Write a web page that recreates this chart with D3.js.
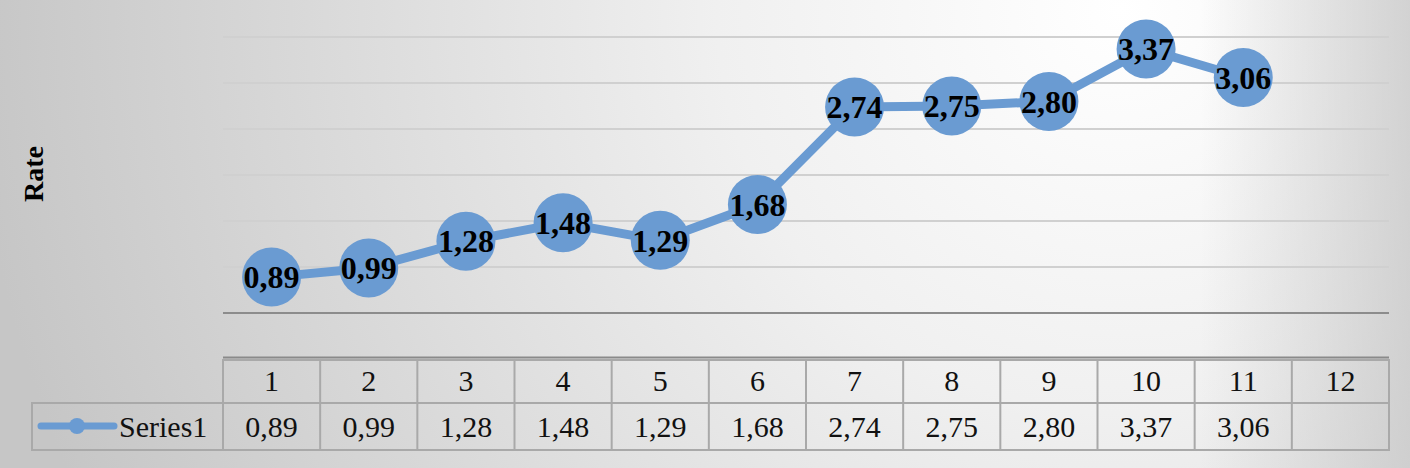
<!DOCTYPE html>
<html><head><meta charset="utf-8">
<script src="https://cdn.jsdelivr.net/npm/d3@7"></script>
<style>html,body{margin:0;padding:0;background:#fff;}svg{display:block;} text{font-family:"Liberation Serif","Times New Roman",Times,"DejaVu Serif",serif;}</style>
</head><body>
<script>
const categories = ["1","2","3","4","5","6","7","8","9","10","11","12"];
const values = [0.89,0.99,1.28,1.48,1.29,1.68,2.74,2.75,2.80,3.37,3.06,null];
const seriesName = "Series1";
const yTicks = [0.5,1.0,1.5,2.0,2.5,3.0,3.5];
const fmt = v => v == null ? "" : v.toFixed(2).replace(".", ",");

const W = 1410, H = 468;
const svg = d3.select("body").append("svg").attr("width", W).attr("height", H);
const defs = svg.append("defs");
const rg = defs.append("radialGradient").attr("id","bg").attr("gradientUnits","userSpaceOnUse")
  .attr("cx",1120).attr("cy",10).attr("r",1150);
rg.append("stop").attr("offset","0%").attr("stop-color","#ffffff");
rg.append("stop").attr("offset","35%").attr("stop-color","#f0f0f0");
rg.append("stop").attr("offset","100%").attr("stop-color","#c6c6c6");
svg.append("rect").attr("width",W).attr("height",H).attr("fill","url(#bg)");
const lg = defs.append("linearGradient").attr("id","edge").attr("x1","0").attr("x2","1");
lg.append("stop").attr("offset","0").attr("stop-color","#c4c4c4").attr("stop-opacity",0);
lg.append("stop").attr("offset","1").attr("stop-color","#c4c4c4").attr("stop-opacity",0.7);
svg.append("rect").attr("x",1200).attr("width",210).attr("height",H).attr("fill","url(#edge)");

const x0 = 223, x1 = 1389;
const x = d3.scaleBand().domain(categories).range([x0, x1]).padding(0);
const y = d3.scaleLinear().domain([0.5, 3.5]).range([313, 37]);

svg.append("g").selectAll("line").data(yTicks).join("line")
  .attr("x1", x0).attr("x2", x1)
  .attr("y1", d => y(d)).attr("y2", d => y(d))
  .attr("stroke", d => d === 0.5 ? "#8c8c8c" : "#d0d0d0")
  .attr("stroke-width", 2);

svg.append("text").attr("transform","translate(43,174) rotate(-90)")
  .attr("text-anchor","middle")
  .attr("font-weight","bold").attr("font-size",28).attr("fill","#000").text("Rate");

const pts = categories.map((c,i) => ({c, v: values[i]})).filter(d => d.v != null);
const cx = d => x(d.c) + x.bandwidth()/2;
const color = "#6a9bd2";
svg.append("path").datum(pts)
  .attr("d", d3.line().x(cx).y(d => y(d.v)))
  .attr("fill","none").attr("stroke",color).attr("stroke-width",9).attr("stroke-linejoin","round");
svg.append("g").selectAll("circle").data(pts).join("circle")
  .attr("cx", cx).attr("cy", d => y(d.v)).attr("r", 29.5).attr("fill", color);
svg.append("g").selectAll("text").data(pts).join("text")
  .attr("x", cx).attr("y", d => y(d.v)).attr("dy","0.35em")
  .attr("text-anchor","middle")
  .attr("font-weight","bold").attr("font-size",32).attr("fill","#000").text(d => fmt(d.v));

const tTop = 360, rowMid = 403, tBot = 450, lx = 32;
const tbl = svg.append("g");
const grid = "#a9a9a9";
tbl.append("line").attr("x1",x0).attr("x2",x1).attr("y1",357.5).attr("y2",357.5).attr("stroke","#8a8a8a").attr("stroke-width",2);
tbl.append("rect").attr("x",x0).attr("y",tTop).attr("width",x1-x0).attr("height",tBot-tTop).attr("fill","none").attr("stroke",grid).attr("stroke-width",2);
tbl.append("rect").attr("x",lx).attr("y",rowMid).attr("width",x0-lx).attr("height",tBot-rowMid).attr("fill","none").attr("stroke",grid).attr("stroke-width",2);
tbl.append("line").attr("x1",x0).attr("x2",x1).attr("y1",rowMid).attr("y2",rowMid).attr("stroke",grid).attr("stroke-width",2);
tbl.selectAll(".vl").data(categories.slice(1)).join("line")
  .attr("x1", d => x(d)).attr("x2", d => x(d)).attr("y1", tTop).attr("y2", tBot)
  .attr("stroke", grid).attr("stroke-width", 2);
tbl.selectAll(".hd").data(categories).join("text")
  .attr("x", d => x(d) + x.bandwidth()/2).attr("y", 380.5).attr("dy","0.35em")
  .attr("text-anchor","middle").attr("font-size",30).attr("fill","#111").text(d => d);
tbl.selectAll(".vv").data(categories.map((c,i)=>({c, v: values[i]}))).join("text")
  .attr("x", d => x(d.c) + x.bandwidth()/2).attr("y", 426).attr("dy","0.35em")
  .attr("text-anchor","middle").attr("font-size",30).attr("fill","#111").text(d => fmt(d.v));
tbl.append("line").attr("x1",41).attr("x2",114).attr("y1",426).attr("y2",426).attr("stroke",color).attr("stroke-width",7).attr("stroke-linecap","round");
tbl.append("circle").attr("cx",77).attr("cy",426).attr("r",8).attr("fill",color);
tbl.append("text").attr("x",119).attr("y",426).attr("dy","0.35em")
  .attr("font-size",30).attr("fill","#111").text(seriesName);
</script>
</body></html>
